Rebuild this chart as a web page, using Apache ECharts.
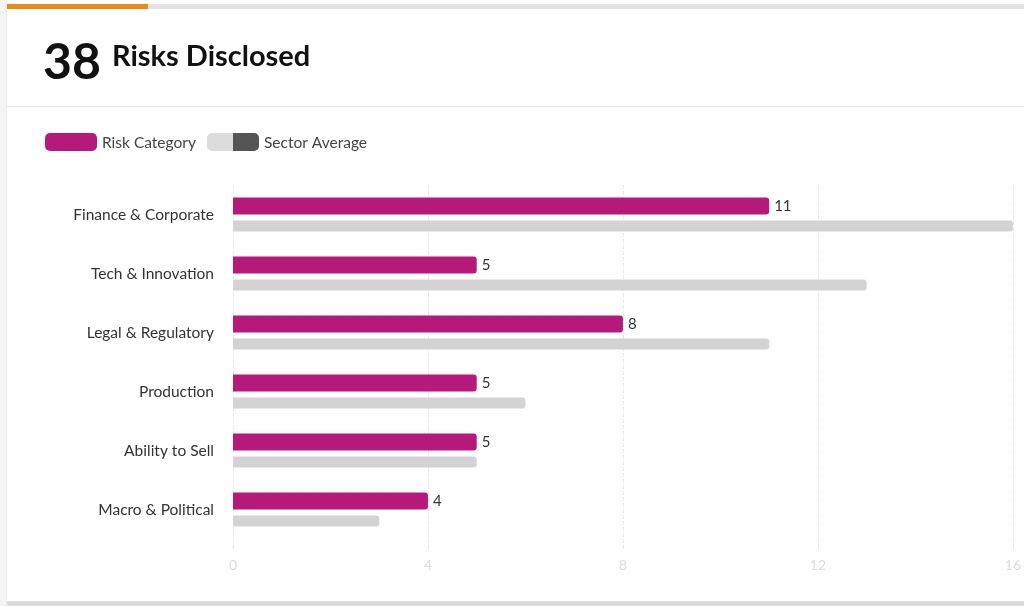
<!DOCTYPE html>
<html><head><meta charset="utf-8">
<script src="https://cdn.jsdelivr.net/npm/echarts@6/dist/echarts.min.js"></script>
<style>html,body{margin:0;padding:0;background:#fff;}#c{width:1024px;height:606px;}</style>
</head><body><div id="c"></div>
<script>
const categories = ['Finance & Corporate','Tech & Innovation','Legal & Regulatory','Production','Ability to Sell','Macro & Political'];
const riskValues = [11,5,8,5,5,4];
const sectorValues = [16,13,11,6,5,3];
const xTicks = [0,4,8,12,16];
const totalRisks = 38;
const titleText = 'Risks Disclosed';
const legendNames = ['Risk Category','Sector Average'];

const FONT = 'Lato, "Open Sans", sans-serif';
const chart = echarts.init(document.getElementById('c'), null, {renderer:'canvas'});
chart.setOption({
  animation:false,
  backgroundColor:'#fff',
  graphic:[
    {type:'rect',shape:{x:0,y:0,width:7,height:606},style:{fill:'#f4f4f4'},z:-10},
    {type:'rect',shape:{x:6,y:0,width:1,height:606},style:{fill:'#ececec'},z:-10},
    {type:'rect',shape:{x:7,y:4,width:1017,height:5},style:{fill:'#e3e3e3'}},
    {type:'rect',shape:{x:7,y:4,width:141,height:5},style:{fill:'#ef8a15'}},
    {type:'rect',shape:{x:7,y:106,width:1017,height:1},style:{fill:'#e6e6e6'}},
    {type:'rect',shape:{x:7,y:601,width:1017,height:5},style:{fill:'#dcdcdc'}},
    {type:'text',left:43,top:38,style:{text:String(totalRisks),font:'bold 50px '+FONT,fill:'#111'}},
    {type:'text',left:112,top:42,style:{text:titleText,font:'bold 29px '+FONT,fill:'#111'}},
    {type:'rect',shape:{x:45,y:133,width:52,height:18,r:5},style:{fill:'#b5197a'}},
    {type:'text',left:102,top:135,style:{text:legendNames[0],font:'15.5px '+FONT,fill:'#444'}},
    {type:'rect',shape:{x:207,y:133,width:52,height:18,r:5},style:{fill:'#dcdcdc'}},
    {type:'rect',shape:{x:233,y:133,width:26,height:18,r:[0,5,5,0]},style:{fill:'#555555'}},
    {type:'text',left:264,top:135,style:{text:legendNames[1],font:'15.5px '+FONT,fill:'#444'}}
  ],
  grid:{left:233,right:9,top:185,bottom:67,containLabel:false},
  xAxis:{
    type:'value',min:0,max:16,interval:4,
    axisLine:{show:false},
    axisTick:{show:true,length:12,lineStyle:{color:'#e8e8e8',type:'dashed'}},
    axisLabel:{color:'#dcdcdc',fontSize:14,fontFamily:FONT,margin:19,
      formatter:function(v){return xTicks.indexOf(v)>=0?String(v):'';}},
    splitLine:{show:true,lineStyle:{color:'#e8e8e8',type:'dashed'}}
  },
  yAxis:{
    type:'category',data:categories,inverse:true,
    axisLine:{show:false},axisTick:{show:false},
    axisLabel:{color:'#333',fontSize:15.5,fontFamily:FONT,margin:19,padding:[3,0,0,0]}
  },
  series:[
    {name:legendNames[0],type:'bar',data:riskValues,barWidth:17,barGap:'35%',
      itemStyle:{color:'#b5197a',borderRadius:[0,3,3,0]},
      label:{show:true,position:'right',distance:5,color:'#333',fontSize:15,fontFamily:FONT}},
    {name:legendNames[1],type:'bar',data:sectorValues,barWidth:11,
      itemStyle:{color:'#d3d3d3',borderRadius:[0,3,3,0]}}
  ]
});
</script></body></html>
